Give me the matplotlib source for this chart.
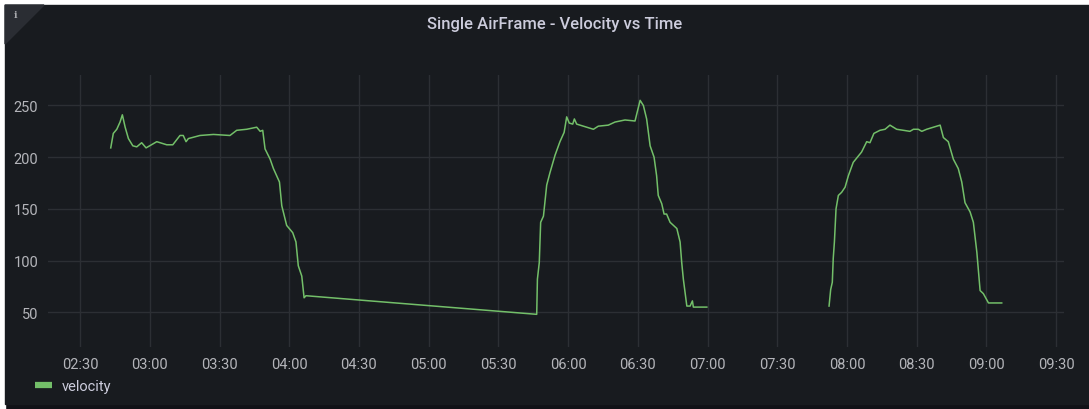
import numpy as np
from matplotlib import pyplot as plt
from matplotlib import patches
from matplotlib.ticker import FuncFormatter, MultipleLocator

# time in minutes since 00:00, velocity values
# first flight, then the flat connection to the second one (no gap in between)
seg1_min = [163.2, 164.3, 165.8, 167.2, 168.2, 169.4, 170.8, 172.7, 174.4, 176.5,
            178.4, 183.0, 187.3, 189.9, 193.0, 194.4, 195.6, 196.6, 201.6, 207.4,
            214.5, 217.4, 221.7, 226.0, 227.5, 228.6, 229.6, 231.8, 233.2, 235.8,
            236.8, 238.9, 241.5, 242.9, 243.9, 245.4, 246.4, 247.2, 346.5]
seg1_vel = [209, 223, 227, 234, 241, 229, 218, 211, 210, 214,
            209, 215, 212, 212, 221, 221, 215, 218, 221, 222,
            221, 226, 227, 229, 225, 226, 208, 198, 189, 176,
            153, 134, 127, 118, 95, 85, 64, 66, 48]

seg2_min = [346.8, 347.6, 348.2, 349.4, 350.8, 352.2, 354.4, 356.5, 358.3, 359.4,
            360.5, 362.0, 362.7, 363.7, 370.9, 373.0, 377.3, 380.2, 384.5, 388.8,
            391.0, 392.4, 393.8, 395.3, 397.0, 398.1, 398.8, 400.3, 401.3, 402.4,
            403.9, 406.8, 408.2, 408.9, 409.6, 411.1, 412.5, 413.5, 413.9, 419.7]
seg2_vel = [82, 98, 137, 143, 173, 185, 202, 215, 224, 239,
            233, 232, 237, 232, 227, 230, 231, 234, 236, 235,
            255, 250, 237, 211, 200, 182, 163, 155, 145, 145,
            137, 131, 118, 98, 82, 56, 56, 61, 55, 55]

# third flight, after a gap with no data
seg3_min = [472.3, 473.0, 473.7, 474.1, 474.6, 475.3, 476.3, 477.7, 479.2, 480.6,
            482.7, 486.3, 488.5, 489.9, 491.6, 494.2, 496.4, 498.5, 501.4, 504.3,
            507.1, 508.6, 510.7, 512.2, 514.3, 517.2, 520.1, 521.5, 523.6, 525.8,
            527.9, 529.4, 530.8, 533.0, 534.4, 535.9, 537.3, 538.7, 540.9, 546.6]
seg3_vel = [56, 72, 79, 102, 118, 150, 163, 166, 171, 182,
            195, 205, 215, 214, 223, 226, 227, 231, 227, 226,
            225, 227, 227, 225, 227, 229, 231, 219, 215, 198,
            189, 176, 156, 147, 137, 108, 71, 68, 59, 59]

y_ticks = [50, 100, 150, 200, 250]

W, H = 1089, 410
BG = "#181b1f"
TXT = "#ccccdc"


def fx(px):
    return px / W


def fy(py):
    return 1 - py / H


fig = plt.figure(figsize=(W / 100, H / 100), dpi=100)
fig.patch.set_facecolor("#111217")

# white crop margin, panel body, info corner
fig.add_artist(patches.Rectangle((0, fy(6)), 1, 1, transform=fig.transFigure,
                                 color="white", zorder=-3))
fig.add_artist(patches.Rectangle((0, 0), fx(5), 1, transform=fig.transFigure,
                                 color="white", zorder=-3))
fig.add_artist(patches.Rectangle((fx(5), fy(405)), 1 - fx(5), fy(6) - fy(405),
                                 transform=fig.transFigure, color=BG, zorder=-2))
fig.add_artist(patches.Polygon([(fx(5), fy(6)), (fx(44), fy(6)), (fx(5), fy(45))],
                               closed=True, transform=fig.transFigure,
                               color="#2a2d33", zorder=-1))
fig.text(fx(15), fy(16), "i", color="#a8a9ad", fontsize=7, fontweight="bold",
         ha="center", va="center", family="DejaVu Serif")

fig.text(fx(555), fy(25), "Single AirFrame - Velocity vs Time", color=TXT,
         fontsize=12, fontweight="medium", family="Roboto",
         ha="center", va="center")

ax = fig.add_axes([fx(48), fy(348), fx(1064) - fx(48), fy(76) - fy(348)])
ax.set_facecolor(BG)

t = seg1_min + seg2_min + [np.nan] + seg3_min
v = seg1_vel + seg2_vel + [np.nan] + seg3_vel
ax.plot(t, v, color="#73bf69", lw=1.1, label="velocity")

ax.set_xlim(136.2, 573.4)
ax.set_ylim(16.4, 279.5)
ax.xaxis.set_major_locator(MultipleLocator(30))
ax.xaxis.set_major_formatter(FuncFormatter(lambda x, p: f"{int(x // 60):02d}:{int(x % 60):02d}"))
ax.set_yticks(y_ticks)

for s in ax.spines.values():
    s.set_visible(False)
ax.grid(True, color="#2c2f34", lw=1)
ax.set_axisbelow(True)
ax.tick_params(length=0, colors="#b4b5ba", labelsize=10.5)
ax.tick_params(axis="y", pad=7)
ax.tick_params(axis="x", pad=7)
for lab in ax.get_xticklabels() + ax.get_yticklabels():
    lab.set_family("Roboto")

leg = ax.legend(loc="center left", bbox_to_anchor=(fx(35), fy(387)),
                bbox_transform=fig.transFigure, frameon=False, borderpad=0,
                borderaxespad=0, handlelength=1.15, handletextpad=0.68,
                prop={"family": "Roboto", "size": 10.5})
for h in leg.legend_handles:
    h.set_linewidth(4.5)
    h.set_solid_capstyle("butt")
for txt in leg.get_texts():
    txt.set_color(TXT)

fig.savefig("out.png", dpi=100, facecolor=fig.get_facecolor())
